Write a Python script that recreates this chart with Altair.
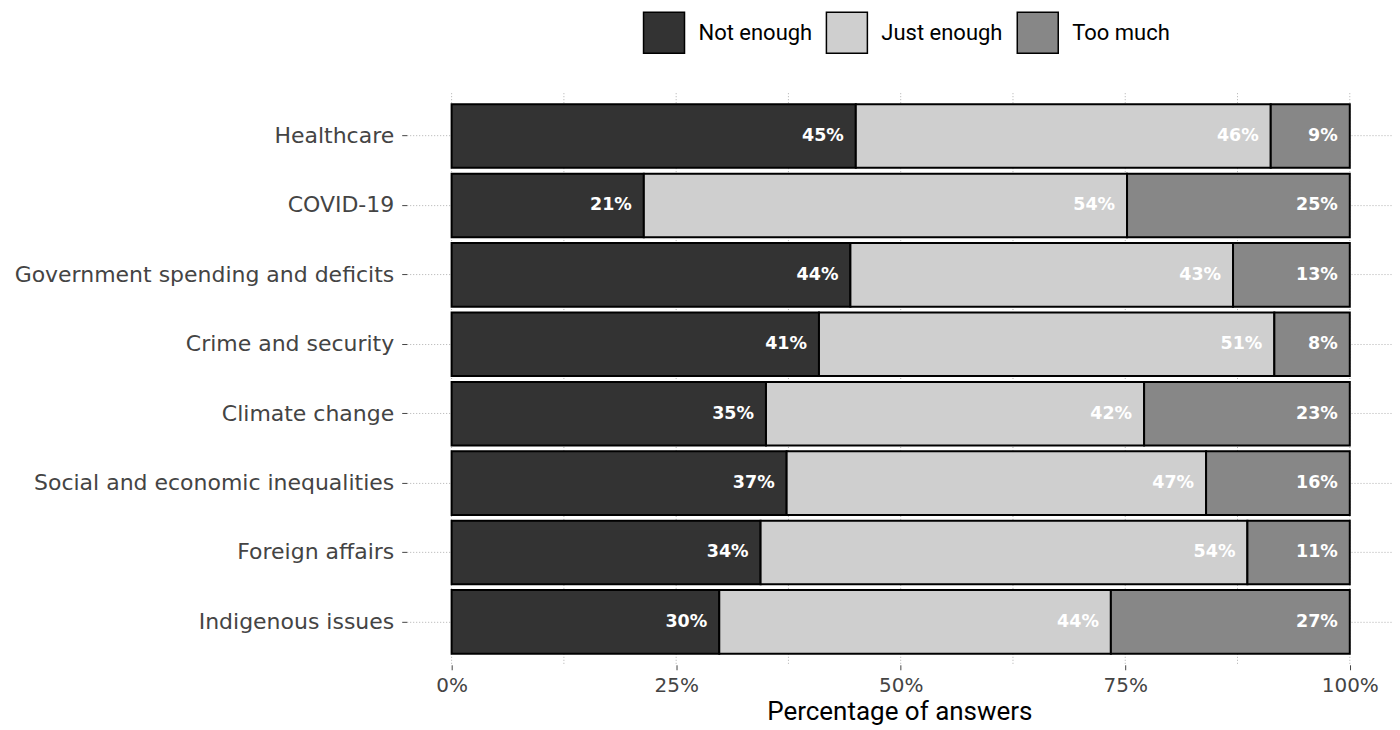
import altair as alt
import pandas as pd

categories = ["Healthcare", "COVID-19", "Government spending and deficits",
              "Crime and security", "Climate change",
              "Social and economic inequalities", "Foreign affairs",
              "Indigenous issues"]
answers = ["Not enough", "Just enough", "Too much"]
not_enough = [45.0, 21.4, 44.4, 40.9, 35.0, 37.3, 34.4, 29.8]
just_enough = [46.2, 53.8, 42.6, 50.7, 42.1, 46.7, 54.2, 43.6]
too_much = [8.8, 24.8, 13.0, 8.4, 22.9, 16.0, 11.4, 26.6]
grid_values = [0, 12.5, 25, 37.5, 50, 62.5, 75, 87.5, 100]
tick_values = [0, 25, 50, 75, 100]
colors = ["#333333", "#cfcfcf", "#878787"]

rows = []
for i, c in enumerate(categories):
    start = 0.0
    for j, (a, v) in enumerate(zip(answers, [not_enough[i], just_enough[i], too_much[i]])):
        rows.append({"topic": c, "answer": a, "order": j, "value": v,
                     "start": start, "end": start + v,
                     "label": f"{round(v)}%"})
        start += v
df = pd.DataFrame(rows)
grid_df = pd.DataFrame({"g": grid_values})

FONT = "Roboto"
TICKFONT = "DejaVu Sans"
xscale = alt.Scale(domain=[-5, 104.7], nice=False, zero=False)
yscale = alt.Scale(domain=categories, paddingInner=0.084, paddingOuter=0.16)

grid = alt.Chart(grid_df).mark_rule(color="#b0b0b0", strokeDash=[1, 2], strokeWidth=1).encode(
    x=alt.X("g:Q", scale=xscale)
)

bars = alt.Chart(df).mark_bar(stroke="black", strokeWidth=2).encode(
    y=alt.Y("topic:N", scale=yscale, sort=categories,
            axis=alt.Axis(title=None, grid=True, gridColor="#b0b0b0", gridDash=[1, 2],
                          labelFontSize=22, labelColor="#444444", labelFont=TICKFONT,
                          tickColor="#444444", tickSize=5, labelPadding=8,
                          domain=False, labelLimit=500)),
    x=alt.X("start:Q", scale=xscale,
            axis=alt.Axis(values=tick_values, labelExpr="datum.value + '%'",
                          title="Percentage of answers", titleFontSize=26,
                          titleFontWeight="normal", titleColor="black", titleFont=FONT,
                          labelFontSize=20, labelColor="#444444", labelFont=TICKFONT,
                          tickColor="#444444", tickSize=5, labelPadding=6,
                          grid=False, domain=False, titlePadding=3)),
    x2="end:Q",
    color=alt.Color("answer:N", scale=alt.Scale(domain=answers, range=colors),
                    legend=alt.Legend(title=None, orient="none", direction="horizontal",
                                      legendX=236, legendY=-82,
                                      symbolType="square", symbolSize=1681,
                                      symbolStrokeColor="black", symbolStrokeWidth=1.5,
                                      labelFontSize=22, labelFont=FONT, labelColor="black",
                                      labelOffset=13, columnPadding=11)),
)

labels = alt.Chart(df).mark_text(align="right", baseline="middle", dx=-12,
                                 color="white", fontSize=17.5, fontWeight="bold",
                                 font=TICKFONT).encode(
    y=alt.Y("topic:N", scale=yscale, sort=categories),
    x=alt.X("end:Q", scale=xscale),
    text="label:N",
)

chart = alt.layer(grid, bars, labels).properties(
    width=986, height=572,
    padding={"left": 5, "top": 3, "right": 0, "bottom": 0}
).configure(background="white").configure_view(stroke=None, strokeWidth=0)

chart.save("out.html", embed_options={"renderer": "svg", "actions": False})
